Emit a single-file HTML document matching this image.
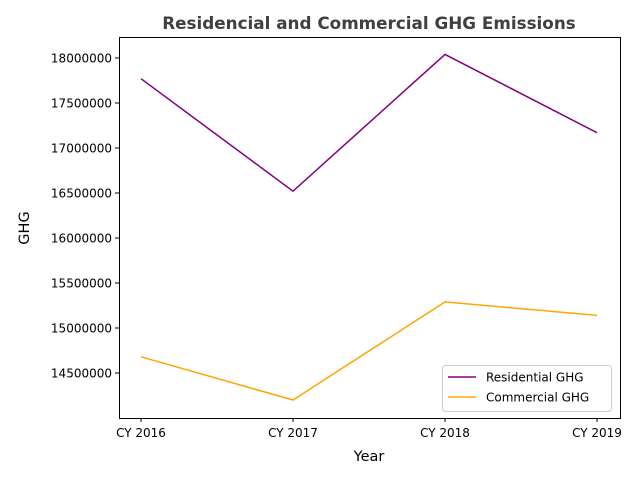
<!DOCTYPE html>
<html><head><meta charset="utf-8"><style>
body{margin:0;background:#fff;font-family:"Liberation Sans","DejaVu Sans",sans-serif}
svg text{font-family:"DejaVu Sans","Liberation Sans",sans-serif}
</style></head><body>
<svg id="chart" width="640" height="480" xmlns="http://www.w3.org/2000/svg">
<rect width="640" height="480" fill="#fff"/>
<text x="369" y="29" text-anchor="middle" font-size="16.8" font-weight="bold" fill="#404040">Residencial and Commercial GHG Emissions</text>
<g id="plot"></g>
<rect x="119.5" y="37.5" width="501" height="381" fill="none" stroke="#000" stroke-width="1"/>
<text x="369" y="461" text-anchor="middle" font-size="14.5">Year</text>
<text transform="translate(29,228) rotate(-90)" text-anchor="middle" font-size="14.5">GHG</text>
<g>
<rect x="442.5" y="365.5" width="169" height="46" rx="3" fill="#fff" fill-opacity="0.8" stroke="#ccc"/>
<line x1="448" y1="377" x2="476" y2="377" stroke="purple" stroke-width="1.5"/>
<text x="486" y="381.5" font-size="12">Residential GHG</text>
<line x1="448" y1="397" x2="476" y2="397" stroke="orange" stroke-width="1.5"/>
<text x="486" y="401.5" font-size="12">Commercial GHG</text>
</g>
</svg>
<script>
const categories=["CY 2016","CY 2017","CY 2018","CY 2019"];
const residential=[17770000,16520000,18040000,17170000];
const commercial=[14680000,14200000,15290000,15140000];
const yTicks=[14500000,15000000,15500000,16000000,16500000,17000000,17500000,18000000];
const NS="http://www.w3.org/2000/svg";
const g=document.getElementById('plot');
function x(i){return 141+i*152;}
function y(v){return 373-(v-14500000)*0.00009;}
function mk(t,a){const e=document.createElementNS(NS,t);for(const k in a)e.setAttribute(k,a[k]);g.appendChild(e);return e;}
yTicks.forEach(v=>{
 const l=mk('line',{x1:115,x2:119,y1:y(v),y2:y(v),stroke:'#000'});
 
 
 const t=mk('text',{x:112,y:y(v)+4.5,'text-anchor':'end','font-size':'12'});
 t.textContent=v;
 
 
});
categories.forEach((c,i)=>{
 const l=mk('line',{x1:x(i),x2:x(i),y1:418,y2:422,stroke:'#000'});
 
 
 const t=mk('text',{x:x(i),y:437,'text-anchor':'middle','font-size':'12'});
 t.textContent=c;
 
 
});
function line(arr,color,name){
 const p=mk('polyline',{points:arr.map((v,i)=>x(i)+','+y(v)).join(' '),fill:'none',stroke:color,'stroke-width':1.5});
 
 
}
line(residential,'purple','residential-line');
line(commercial,'orange','commercial-line');
</script>
</body></html>
